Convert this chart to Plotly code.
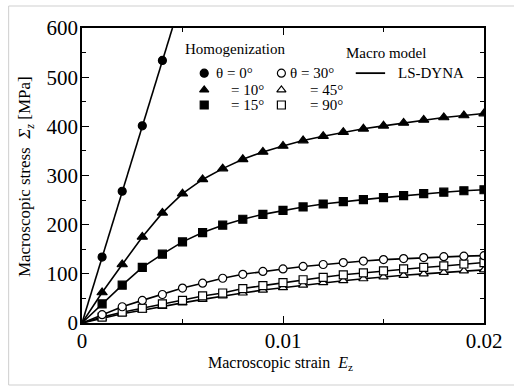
import plotly.graph_objects as go

# ---------------- data ----------------
strain = [0.000, 0.001, 0.002, 0.003, 0.004, 0.005, 0.006, 0.007, 0.008, 0.009, 0.010,
          0.011, 0.012, 0.013, 0.014, 0.015, 0.016, 0.017, 0.018, 0.019, 0.020]

# Homogenization results (markers)
strain_0 = [0.000, 0.001, 0.002, 0.003, 0.004]
stress_0 = [0, 134, 268, 401, 534]
stress_10 = [0, 62, 119, 175, 224, 263, 292, 314, 333, 348, 360,
             371, 380, 388, 395, 401, 407, 413, 418, 422, 426]
stress_15 = [0, 39, 77, 113, 140, 165, 184, 199, 211, 221, 229,
             236, 242, 247, 251, 255, 259, 263, 266, 269, 271]
stress_30 = [0, 17, 33, 46, 58, 71, 81, 91, 99, 105, 110,
             115, 119, 123, 126, 129, 131, 133, 135, 136, 137]
stress_45 = [0, 10, 19, 26, 34, 41, 48, 55, 61, 67, 72,
             77, 82, 86, 90, 94, 97, 100, 103, 106, 108]
stress_90 = [0, 12, 22, 30, 39, 46, 55, 61, 70, 76, 82,
             88, 93, 98, 102, 106, 110, 113, 116, 120, 123]

# Macro model (LS-DYNA) line for theta = 0 runs past the last marker to the top
line_strain_0 = [0.000, 0.0045]
line_stress_0 = [0, 600]

x_ticks = [0, 0.01, 0.02]
x_ticklabels = ["0", "0.01", "0.02"]
y_ticks = [0, 100, 200, 300, 400, 500, 600]

SERIF = "Liberation Serif"
BLACK = "black"

fig = go.Figure()

def add_line(x, y):
    fig.add_trace(go.Scatter(x=x, y=y, mode="lines",
                             line=dict(color=BLACK, width=1.6),
                             showlegend=False, hoverinfo="skip", cliponaxis=True))

def add_markers(x, y, symbol, filled, size):
    fig.add_trace(go.Scatter(
        x=x[1:], y=y[1:], mode="markers",
        marker=dict(symbol=symbol, size=size,
                    color=BLACK if filled else "white",
                    line=dict(color=BLACK, width=1.2)),
        showlegend=False, cliponaxis=True))

# model lines
add_line(line_strain_0, line_stress_0)
for s in (stress_10, stress_15, stress_30, stress_45, stress_90):
    add_line(strain, s)

# homogenization markers
add_markers(strain_0, stress_0, "circle", True, 8)
add_markers(strain, stress_10, "triangle-up", True, 9)
add_markers(strain, stress_15, "square", True, 8)
add_markers(strain, stress_45, "triangle-up", False, 8)
add_markers(strain, stress_90, "square", False, 8)
add_markers(strain, stress_30, "circle", False, 8)

# ---------------- legend (drawn on an overlay axis in plot fractions) ----------------
leg_x = [0.304, 0.304, 0.304, 0.496, 0.496, 0.496]
leg_y = [0.847, 0.790, 0.739, 0.847, 0.790, 0.739]
leg_sym = ["circle", "triangle-up", "square", "circle", "triangle-up", "square"]
leg_fill = [True, True, True, False, False, False]
for lx, ly, sym, fl in zip(leg_x, leg_y, leg_sym, leg_fill):
    fig.add_trace(go.Scatter(
        x=[lx], y=[ly], mode="markers", xaxis="x2", yaxis="y2",
        marker=dict(symbol=sym, size=8, color=BLACK if fl else "white",
                    line=dict(color=BLACK, width=1.2)),
        showlegend=False, hoverinfo="skip"))
fig.add_trace(go.Scatter(x=[0.681, 0.754], y=[0.847, 0.847], mode="lines",
                         xaxis="x2", yaxis="y2", line=dict(color=BLACK, width=1.8),
                         showlegend=False, hoverinfo="skip"))

leg_texts = [
    ("Homogenization", 0.251, 0.929),
    ("Macro model", 0.652, 0.915),
    ("θ = 0°", 0.328, 0.847),
    ("= 10°", 0.365, 0.790),
    ("= 15°", 0.365, 0.739),
    ("θ = 30°", 0.513, 0.847),
    ("= 45°", 0.562, 0.790),
    ("= 90°", 0.562, 0.739),
    ("LS-DYNA", 0.781, 0.847),
]
for t, ax, ay in leg_texts:
    fig.add_annotation(text=t, x=ax, y=ay, xref="x2", yref="y2",
                       xanchor="left", yanchor="middle", showarrow=False,
                       font=dict(family=SERIF, size=15, color=BLACK))

# axis titles
fig.add_annotation(text="Macroscopic strain  <i>E</i><sub>z</sub>", xref="paper", yref="paper",
                   x=0.494, y=-0.137, xanchor="center", yanchor="middle", showarrow=False,
                   font=dict(family=SERIF, size=16, color=BLACK))
fig.add_annotation(text="Macroscopic stress  <i>Σ</i><sub><i>z</i></sub> [MPa]", xref="paper", yref="paper",
                   x=-0.139, y=0.495, xanchor="center", yanchor="middle", showarrow=False,
                   textangle=-90, font=dict(family=SERIF, size=17, color=BLACK))

# outer light frame of the figure image
fig.add_shape(type="rect", xref="paper", yref="paper",
              x0=(7 - 82) / 411, x1=(530 - 82) / 411,
              y0=(323 - 385) / 295, y1=(323 - 6) / 295,
              line=dict(color="#cfcfcf", width=1), fillcolor="rgba(0,0,0,0)", layer="below")

axis_common = dict(showgrid=False, zeroline=False, showline=True, linecolor=BLACK,
                   linewidth=1.5, mirror="ticks", ticks="inside", tickcolor=BLACK,
                   tickwidth=1.2, ticklen=7,
                   tickfont=dict(family=SERIF, size=21, color=BLACK))

fig.update_layout(
    width=514, height=392,
    margin=dict(l=82, r=21, t=28, b=69),
    paper_bgcolor="white", plot_bgcolor="white",
    showlegend=False,
    font=dict(family=SERIF, color=BLACK),
    xaxis=dict(range=[0, 0.02], tickvals=x_ticks, ticktext=x_ticklabels,
               minor=dict(dtick=0.005, ticks="inside", ticklen=4, tickcolor=BLACK, tickwidth=1.2),
               ticklabelstandoff=-2, **axis_common),
    yaxis=dict(range=[0, 600], tickvals=y_ticks,
               minor=dict(dtick=50, ticks="inside", ticklen=4, tickcolor=BLACK, tickwidth=1.2),
               ticklabelstandoff=-2, **axis_common),
    xaxis2=dict(range=[0, 1], overlaying="x", visible=False, fixedrange=True),
    yaxis2=dict(range=[0, 1], overlaying="y", visible=False, fixedrange=True),
)

fig.write_html("out.html")
